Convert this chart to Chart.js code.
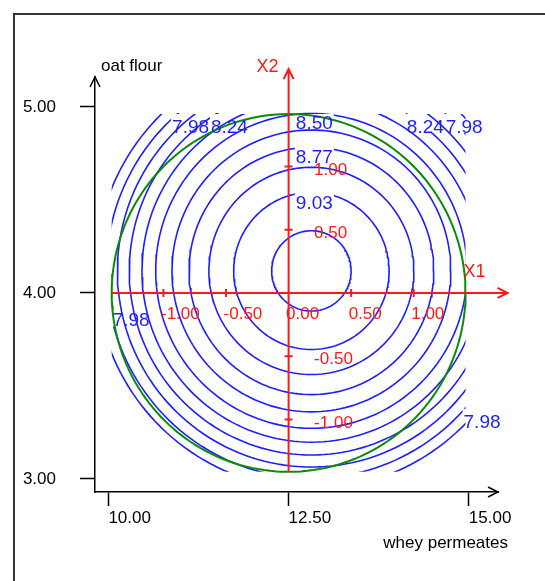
<!DOCTYPE html>
<html>
<head>
<meta charset="utf-8">
<script src="https://cdn.jsdelivr.net/npm/chart.js@4.4.1/dist/chart.umd.min.js"></script>
<style>
  html, body { margin: 0; padding: 0; background: #fff; }
  #wrap { position: relative; width: 545px; height: 581px; overflow: hidden; }
  #frame { position: absolute; left: 13px; top: 13px; width: 600px; height: 600px;
           border-left: 2px solid #333; border-top: 2px solid #333; }
  canvas { position: absolute; left: 0; top: 0; }
</style>
</head>
<body>
<div id="wrap">
  <div id="frame"></div>
  <canvas id="chart" width="545" height="581"></canvas>
</div>
<script>
// real axes (whey permeates / oat flour)
const X_TICKS = [10, 12.5, 15];
const Y_TICKS = [3, 4, 5];
const X_RANGE = [9.814, 15.405];
const Y_RANGE = [2.930, 5.161];

// coded axes X1 / X2
const CODED_CENTER = [12.5, 4.0];
const CODED_STEP = [1.736, 0.68];
const CODED_TICKS = [-1, -0.5, 0, 0.5, 1];
const ALPHA = 1.414;

// fitted model in coded units: b0, b1, b2, b11, b22
const COEF = [9.177, 0.166, 0.159, -0.456, -0.456];
const LEVELS = [9.16, 9.03, 8.90, 8.77, 8.64, 8.50, 8.37, 8.24, 8.11, 7.98, 7.85];
const LEVEL_LABELS = [
  [9.03, 'top'], [8.77, 'top'], [8.50, 'top'],
  [8.24, 'topLeft'], [8.24, 'topRight'],
  [7.98, 'topLeft'], [7.98, 'topRight'], [7.98, 'left'], [7.98, 'right']
];

const FONT = "'Liberation Sans', Arial, sans-serif";
const LABEL_FONT = `19px ${FONT}`;
const BLUE = '#1e1eff';
const RED = '#ff1a1a';
const GREEN = '#0a8a0a';

const toX = u => CODED_CENTER[0] + u * CODED_STEP[0];
const toY = v => CODED_CENTER[1] + v * CODED_STEP[1];
// contours are only evaluated inside the square around the design circle
const X_DOMAIN = [toX(-ALPHA), toX(ALPHA)];
const Y_DOMAIN = [toY(-ALPHA), toY(ALPHA)];

const [b0, b1, b2, b11, b22] = COEF;
const u0 = -b1 / (2 * b11);
const v0 = -b2 / (2 * b22);
const zMax = b0 + b1 * u0 + b2 * v0 + b11 * u0 * u0 + b22 * v0 * v0;

function ellipse(level) {
  const ru = Math.sqrt((level - zMax) / b11);
  const rv = Math.sqrt((level - zMax) / b22);
  return { cx: toX(u0), cy: toY(v0), rx: ru * CODED_STEP[0], ry: rv * CODED_STEP[1] };
}

function ringPoints(cx, cy, rx, ry) {
  const pts = [];
  for (let i = 0; i <= 180; i++) {
    const t = Math.PI * 2 * i / 180;
    pts.push({ x: cx + rx * Math.cos(t), y: cy + ry * Math.sin(t) });
  }
  return pts;
}

// where a contour label sits (real coordinates)
function labelAnchor(level, where) {
  const e = ellipse(level);
  const half = (d, r) => Math.sqrt(Math.max(0, 1 - (d / r) ** 2));
  if (where === 'top') {
    const x = toX(0.05);
    return { x, y: e.cy + e.ry * half(x - e.cx, e.rx) };
  }
  if (where === 'topLeft') return { x: e.cx - e.rx * half(Y_DOMAIN[1] - e.cy, e.ry), y: Y_DOMAIN[1] };
  if (where === 'topRight') return { x: e.cx + e.rx * half(Y_DOMAIN[1] - e.cy, e.ry), y: Y_DOMAIN[1] };
  if (where === 'left') return { x: X_DOMAIN[0], y: e.cy - e.ry * half(X_DOMAIN[0] - e.cx, e.rx) };
  return { x: X_DOMAIN[1], y: e.cy - e.ry * half(X_DOMAIN[1] - e.cx, e.rx) };
}
const LABEL_OFFSET = { top: [1, 1], topLeft: [-5, 5], topRight: [0, 5], left: [1, -6], right: [-2, 7] };

// text box (pixels) of every contour label: left, glyph top, width
function labelBoxes(chart) {
  const { ctx, scales: { x, y } } = chart;
  ctx.save();
  ctx.font = LABEL_FONT;
  const boxes = LEVEL_LABELS.map(([lv, where]) => {
    const a = labelAnchor(lv, where);
    const off = LABEL_OFFSET[where];
    return { level: lv, text: lv.toFixed(2), left: x.getPixelForValue(a.x) + off[0],
             top: y.getPixelForValue(a.y) + off[1], width: ctx.measureText(lv.toFixed(2)).width };
  });
  ctx.restore();
  return boxes;
}

const datasets = [{
  data: ringPoints(toX(0), toY(0), ALPHA * CODED_STEP[0], ALPHA * CODED_STEP[1]),
  borderColor: GREEN, borderWidth: 2, showLine: true, pointRadius: 0
}];
LEVELS.forEach(l => {
  const e = ellipse(l);
  datasets.push({
    data: ringPoints(e.cx, e.cy, e.rx, e.ry), level: l,
    borderColor: BLUE, borderWidth: 1.6, showLine: true, pointRadius: 0, domainClip: true
  });
});

// clip contours to the domain and leave a gap where their label is written
const domainClip = {
  id: 'domainClip',
  beforeDatasetDraw(chart, args) {
    const ds = chart.data.datasets[args.index];
    if (!ds.domainClip) return;
    const { ctx, scales: { x, y } } = chart;
    const l = x.getPixelForValue(X_DOMAIN[0]), r = x.getPixelForValue(X_DOMAIN[1]);
    const t = y.getPixelForValue(Y_DOMAIN[1]), b = y.getPixelForValue(Y_DOMAIN[0]);
    ctx.save();
    ctx.beginPath();
    ctx.rect(l, t, r - l, b - t);
    labelBoxes(chart).filter(bx => bx.level === ds.level).forEach(bx => {
      ctx.rect(bx.left - 1, bx.top - 6, bx.width + 2, 20);
    });
    ctx.clip('evenodd');
  },
  afterDatasetDraw(chart, args) {
    if (chart.data.datasets[args.index].domainClip) chart.ctx.restore();
  }
};

const overlay = {
  id: 'overlay',
  afterDatasetsDraw(chart) {
    const { ctx, chartArea: ca, scales: { x, y } } = chart;
    const px = u => x.getPixelForValue(toX(u));
    const py = v => y.getPixelForValue(toY(v));

    // contour labels
    ctx.save();
    ctx.fillStyle = BLUE;
    ctx.font = LABEL_FONT;
    ctx.textAlign = 'left';
    ctx.textBaseline = 'alphabetic';
    labelBoxes(chart).forEach(bx => ctx.fillText(bx.text, bx.left, bx.top + 13.6));

    // coded axes
    ctx.strokeStyle = RED;
    ctx.fillStyle = RED;
    ctx.lineWidth = 2;
    const ox = px(0), oy = py(0);
    const x1End = px(1.75), x2End = py(1.77);
    ctx.beginPath();
    ctx.moveTo(px(-ALPHA), oy); ctx.lineTo(x1End, oy);
    ctx.moveTo(x1End - 10, oy - 5); ctx.lineTo(x1End, oy); ctx.lineTo(x1End - 10, oy + 5);
    ctx.moveTo(ox, py(-ALPHA)); ctx.lineTo(ox, x2End);
    ctx.moveTo(ox - 5, x2End + 10); ctx.lineTo(ox, x2End); ctx.lineTo(ox + 5, x2End + 10);
    CODED_TICKS.filter(c => c !== 0).forEach(c => {
      ctx.moveTo(px(c), oy - 4); ctx.lineTo(px(c), oy + 4);
      ctx.moveTo(ox - 4, py(c)); ctx.lineTo(ox + 4, py(c));
    });
    ctx.stroke();

    ctx.font = `17px ${FONT}`;
    CODED_TICKS.forEach(c => {
      ctx.textAlign = 'left';
      ctx.fillText(c.toFixed(2), px(c) - 2.5, oy + 14 + 12.2);
      if (c !== 0) ctx.fillText(c.toFixed(2), ox + 25.5, py(c) + 2 + 6.1);
    });
    ctx.font = `18px ${FONT}`;
    ctx.textAlign = 'right';
    ctx.fillText('X2', ox - 10, x2End + 3);
    ctx.textAlign = 'left';
    ctx.fillText('X1', x1End - 44, oy - 16);

    // black arrows and axis titles
    ctx.strokeStyle = '#000';
    ctx.lineWidth = 1.5;
    ctx.beginPath();
    ctx.moveTo(ca.left - 5, ca.top + 10); ctx.lineTo(ca.left, ca.top); ctx.lineTo(ca.left + 5, ca.top + 10);
    ctx.moveTo(ca.right - 10, ca.bottom - 5); ctx.lineTo(ca.right, ca.bottom); ctx.lineTo(ca.right - 10, ca.bottom + 5);
    ctx.stroke();
    ctx.fillStyle = '#000';
    ctx.font = `17px ${FONT}`;
    ctx.textAlign = 'left';
    ctx.fillText('oat flour', ca.left + 6, ca.top - 6);
    ctx.textAlign = 'right';
    ctx.fillText('whey permeates', ca.right + 10, ca.bottom + 56);
    ctx.restore();
  }
};

new Chart(document.getElementById('chart'), {
  type: 'scatter',
  data: { datasets },
  plugins: [domainClip, overlay],
  options: {
    responsive: false,
    animation: false,
    devicePixelRatio: 1,
    layout: { padding: { top: 77, right: 47, left: 0, bottom: 0 } },
    plugins: { legend: { display: false }, tooltip: { enabled: false } },
    elements: { line: { tension: 0 } },
    scales: {
      x: {
        type: 'linear', min: X_RANGE[0], max: X_RANGE[1],
        afterBuildTicks: s => { s.ticks = X_TICKS.map(v => ({ value: v })); },
        afterFit: s => { s.height = 89; },
        ticks: { autoSkip: false, maxRotation: 0, align: 'start', padding: 2, color: '#000',
                 font: { family: FONT, size: 17 }, callback: v => Number(v).toFixed(2) },
        grid: { drawOnChartArea: false, tickLength: 14, tickColor: '#000', tickWidth: 1.5 },
        border: { color: '#000', width: 1.5 }
      },
      y: {
        type: 'linear', min: Y_RANGE[0], max: Y_RANGE[1],
        afterBuildTicks: s => { s.ticks = Y_TICKS.map(v => ({ value: v })); },
        afterFit: s => { s.width = 95; },
        ticks: { autoSkip: false, padding: 24, color: '#000',
                 font: { family: FONT, size: 17 }, callback: v => Number(v).toFixed(2) },
        grid: { drawOnChartArea: false, tickLength: 15, tickColor: '#000', tickWidth: 1.5 },
        border: { color: '#000', width: 1.5 }
      }
    }
  }
});
</script>
</body>
</html>
